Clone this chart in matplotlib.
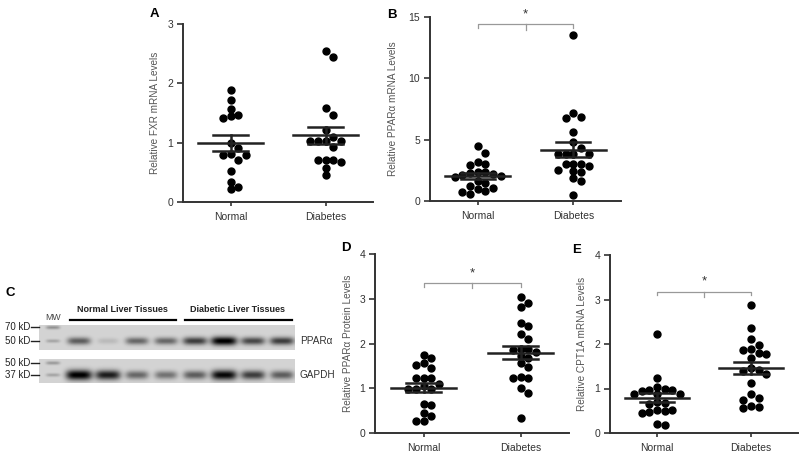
import numpy as np
import matplotlib
matplotlib.use("Agg")
import matplotlib.pyplot as plt

plt.rcParams['font.family'] = ['Liberation Sans', 'DejaVu Sans']

# ============================== data =========================================

groups = ["Normal", "Diabetes"]

fxr_normal = [1.88, 1.72, 1.57, 1.46, 1.42, 1.45, 0.99, 0.91, 0.80, 0.81,
              0.80, 0.70, 0.52, 0.34, 0.22, 0.25]
fxr_diabetes = [2.55, 2.45, 1.58, 1.47, 1.21, 1.10, 1.02, 1.02, 1.02, 1.02,
                0.92, 0.70, 0.70, 0.67, 0.70, 0.57, 0.45]

ppar_mrna_normal = [4.45, 3.95, 3.20, 3.05, 2.95, 2.40, 2.35, 2.30, 2.20, 2.10,
                    2.00, 1.95, 1.60, 1.45, 1.25, 1.05, 0.95, 0.85, 0.75, 0.60]
ppar_mrna_diabetes = [13.5, 7.20, 6.85, 6.80, 5.65, 4.80, 4.35, 3.85, 3.80, 3.80,
                      3.85, 3.05, 3.00, 2.85, 3.00, 2.45, 2.40, 2.55, 1.85, 1.65,
                      0.50]

ppar_prot_normal = [1.74, 1.67, 1.56, 1.52, 1.45, 1.22, 1.22, 1.22, 1.09, 1.05,
                    0.98, 0.98, 0.98, 0.65, 0.63, 0.37, 0.44, 0.27, 0.27]
ppar_prot_diabetes = [3.05, 2.90, 2.82, 2.46, 2.39, 2.21, 2.09, 1.88, 1.85, 1.82,
                      1.88, 1.72, 1.67, 1.56, 1.48, 1.26, 1.22, 1.22, 1.00, 0.89,
                      0.34]

cpt1a_normal = [2.22, 1.24, 1.04, 1.00, 0.97, 0.95, 0.97, 0.88, 0.88, 0.88,
                0.70, 0.67, 0.65, 0.52, 0.48, 0.52, 0.45, 0.50, 0.18, 0.20]
cpt1a_diabetes = [2.88, 2.35, 2.11, 1.98, 1.88, 1.86, 1.80, 1.78, 1.68, 1.45,
                  1.42, 1.40, 1.32, 1.13, 0.88, 0.78, 0.74, 0.61, 0.56, 0.58]

# western blot band intensities (relative darkness), 4 normal + 4 diabetic lanes
blot_ppar = [0.55, 0.12, 0.50, 0.50, 0.70, 1.00, 0.65, 0.70]
blot_gapdh = [1.00, 0.85, 0.50, 0.45, 0.55, 0.95, 0.70, 0.55]
mw_ppar = {"70 kD": 0.25, "50 kD": 0.18}
mw_gapdh = {"50 kD": 0.22, "37 kD": 0.18}

# ============================== layout =======================================

W, H = 800, 458
fig = plt.figure(figsize=(8, 4.58), dpi=100)
fig.patch.set_facecolor("white")


def px_axes(left, top, right, bottom):
    return fig.add_axes([left / W, 1 - bottom / H, (right - left) / W,
                         (bottom - top) / H])


def swarm(values, px_per_unit, unit_px, dot=7.0, step=7.7):
    order = np.argsort(values)[::-1]
    placed = []
    offs = np.zeros(len(values))
    for i in order:
        y = values[i] * px_per_unit
        for k in [0, 1, -1, 2, -2, 3, -3, 4, -4]:
            x = k * step
            if all(np.hypot(x - px, y - py) >= dot for px, py in placed):
                break
        placed.append((x, y))
        offs[i] = x / unit_px
    return offs


def scatter_panel(box, normal, diabetes, ymax, yticks, ylabel, label_x,
                  sig_y=None):
    left, top, right, bottom = box
    ax = px_axes(left, top, right, bottom)
    ax.set_xlim(-0.5, 1.5)
    ax.set_ylim(0, ymax)
    px_per_unit = (bottom - top) / ymax
    unit_px = (right - left) / 2.0

    for pos, vals in enumerate([normal, diabetes]):
        vals = np.array(vals)
        xs = pos + swarm(vals, px_per_unit, unit_px)
        ax.plot(xs, vals, 'o', color='black', markersize=5.0, zorder=3,
                clip_on=False)
        m = vals.mean()
        sem = vals.std(ddof=1) / np.sqrt(len(vals))
        ax.plot([pos - 0.34, pos + 0.34], [m, m], color='#222222', lw=1.8,
                zorder=4)
        for v in (m - sem, m + sem):
            ax.plot([pos - 0.18, pos + 0.18], [v, v], color='#222222', lw=1.8,
                    zorder=4)
        ax.plot([pos, pos], [m - sem, m + sem], color='#222222', lw=1.8,
                zorder=4)

    if sig_y is not None:
        drop = 3.5 / px_per_unit
        ax.plot([0, 0, 1, 1], [sig_y - drop, sig_y, sig_y, sig_y - drop],
                color='#999999', lw=0.9, clip_on=False)
        ax.plot([0.5, 0.5], [sig_y, sig_y - 1.5 * drop], color='#999999',
                lw=0.9, clip_on=False)
        ax.text(0.5, sig_y + 4 / px_per_unit, "*", ha='center', va='bottom',
                fontsize=9.5, color='#333333', clip_on=False)

    for s in ('top', 'right'):
        ax.spines[s].set_visible(False)
    for s in ('left', 'bottom'):
        ax.spines[s].set_linewidth(1.4)
        ax.spines[s].set_color('#333333')
    ax.set_yticks(yticks)
    ax.set_xticks([0, 1])
    ax.set_xticklabels(groups)
    ax.tick_params(axis='y', length=4, width=1.2, labelsize=7.5,
                   colors='#333333', pad=3)
    ax.tick_params(axis='x', length=3, width=1.2, labelsize=7.5,
                   colors='#333333', pad=4)
    ax.set_ylabel(ylabel, fontsize=7.2, color='#555555')
    ax.yaxis.set_label_coords(label_x, 0.5)
    return ax


scatter_panel((183, 24, 373, 202), fxr_normal, fxr_diabetes, 3, [0, 1, 2, 3],
              "Relative FXR mRNA Levels", -0.12)
scatter_panel((430, 17, 621, 201), ppar_mrna_normal, ppar_mrna_diabetes, 15,
              [0, 5, 10, 15], "Relative PPAR\u03b1 mRNA Levels", -0.165,
              sig_y=14.4)
scatter_panel((375, 254, 569, 433), ppar_prot_normal, ppar_prot_diabetes, 4,
              [0, 1, 2, 3, 4], "Relative PPAR\u03b1 Protein Levels", -0.113,
              sig_y=3.35)
scatter_panel((610, 255, 798, 433), cpt1a_normal, cpt1a_diabetes, 4,
              [0, 1, 2, 3, 4], "Relative CPT1A mRNA Levels", -0.122,
              sig_y=3.17)

# ============================== western blot =================================

lane_x = [40 + 29 * i for i in range(8)]
mw_x = 14


def blot_strip(top, bottom, bands, markers, band_h, band_y):
    ax = px_axes(39, top, 295, bottom)
    h = bottom - top
    xs = np.arange(256) + 0.5
    ys = np.arange(h) + 0.5
    X, Y = np.meshgrid(xs, ys)
    img = np.full(X.shape, 0.83)
    for cx, inten in zip(lane_x, bands):
        wx = 10 + 3 * inten
        img -= 0.85 * inten * np.exp(-((X - cx) / wx) ** 4
                                     - ((Y - band_y) / (band_h * (0.75 + 0.4 * inten))) ** 2)
    for my, inten in markers:
        img -= inten * np.exp(-((X - mw_x) / 7) ** 4 - ((Y - my) / 1.8) ** 2)
    ax.imshow(np.clip(img, 0, 1), cmap='gray', vmin=0, vmax=1,
              extent=(0, 256, h, 0), aspect='auto', interpolation='bilinear')
    ax.set_axis_off()
    return ax


blot_strip(325, 350, blot_ppar, [(2.5, mw_ppar["70 kD"]), (16, mw_ppar["50 kD"])],
           3.8, 16)
blot_strip(359, 383, blot_gapdh, [(4, mw_gapdh["50 kD"]), (16, mw_gapdh["37 kD"])],
           4.4, 16)


def fig_text(x, y, s, **kw):
    fig.text(x / W, 1 - y / H, s, **kw)


for name, y in [("70 kD", 327), ("50 kD", 341), ("50 kD", 363), ("37 kD", 375)]:
    fig_text(30, y, name, ha='right', va='center', fontsize=7, color='#222222')
    fig.add_artist(plt.Line2D([31 / W, 39 / W], [1 - y / H, 1 - y / H],
                              color='#222222', lw=1))

fig_text(53, 318, "MW", ha='center', va='center', fontsize=6.3, color='#444444')
fig_text(122, 310, "Normal Liver Tissues", ha='center', va='center',
         fontsize=6.5, fontweight='bold', color='#222222')
fig_text(238, 310, "Diabetic Liver Tissues", ha='center', va='center',
         fontsize=6.5, fontweight='bold', color='#222222')
for x0, x1 in [(70, 176), (185, 292)]:
    fig.add_artist(plt.Line2D([x0 / W, x1 / W], [1 - 320 / H, 1 - 320 / H],
                              color='black', lw=1.6))
fig_text(300, 341, "PPAR\u03b1", ha='left', va='center', fontsize=7.2,
         color='#333333')
fig_text(300, 375, "GAPDH", ha='left', va='center', fontsize=7.2,
         color='#333333')

# panel letters
for letter, x, y in [("A", 150, 14), ("B", 387, 15), ("C", 5, 293),
                     ("D", 341, 248), ("E", 572, 250)]:
    fig_text(x, y, letter, ha='left', va='center', fontsize=9.5,
             fontweight='bold', color='black')

plt.savefig("out.png", dpi=100)
